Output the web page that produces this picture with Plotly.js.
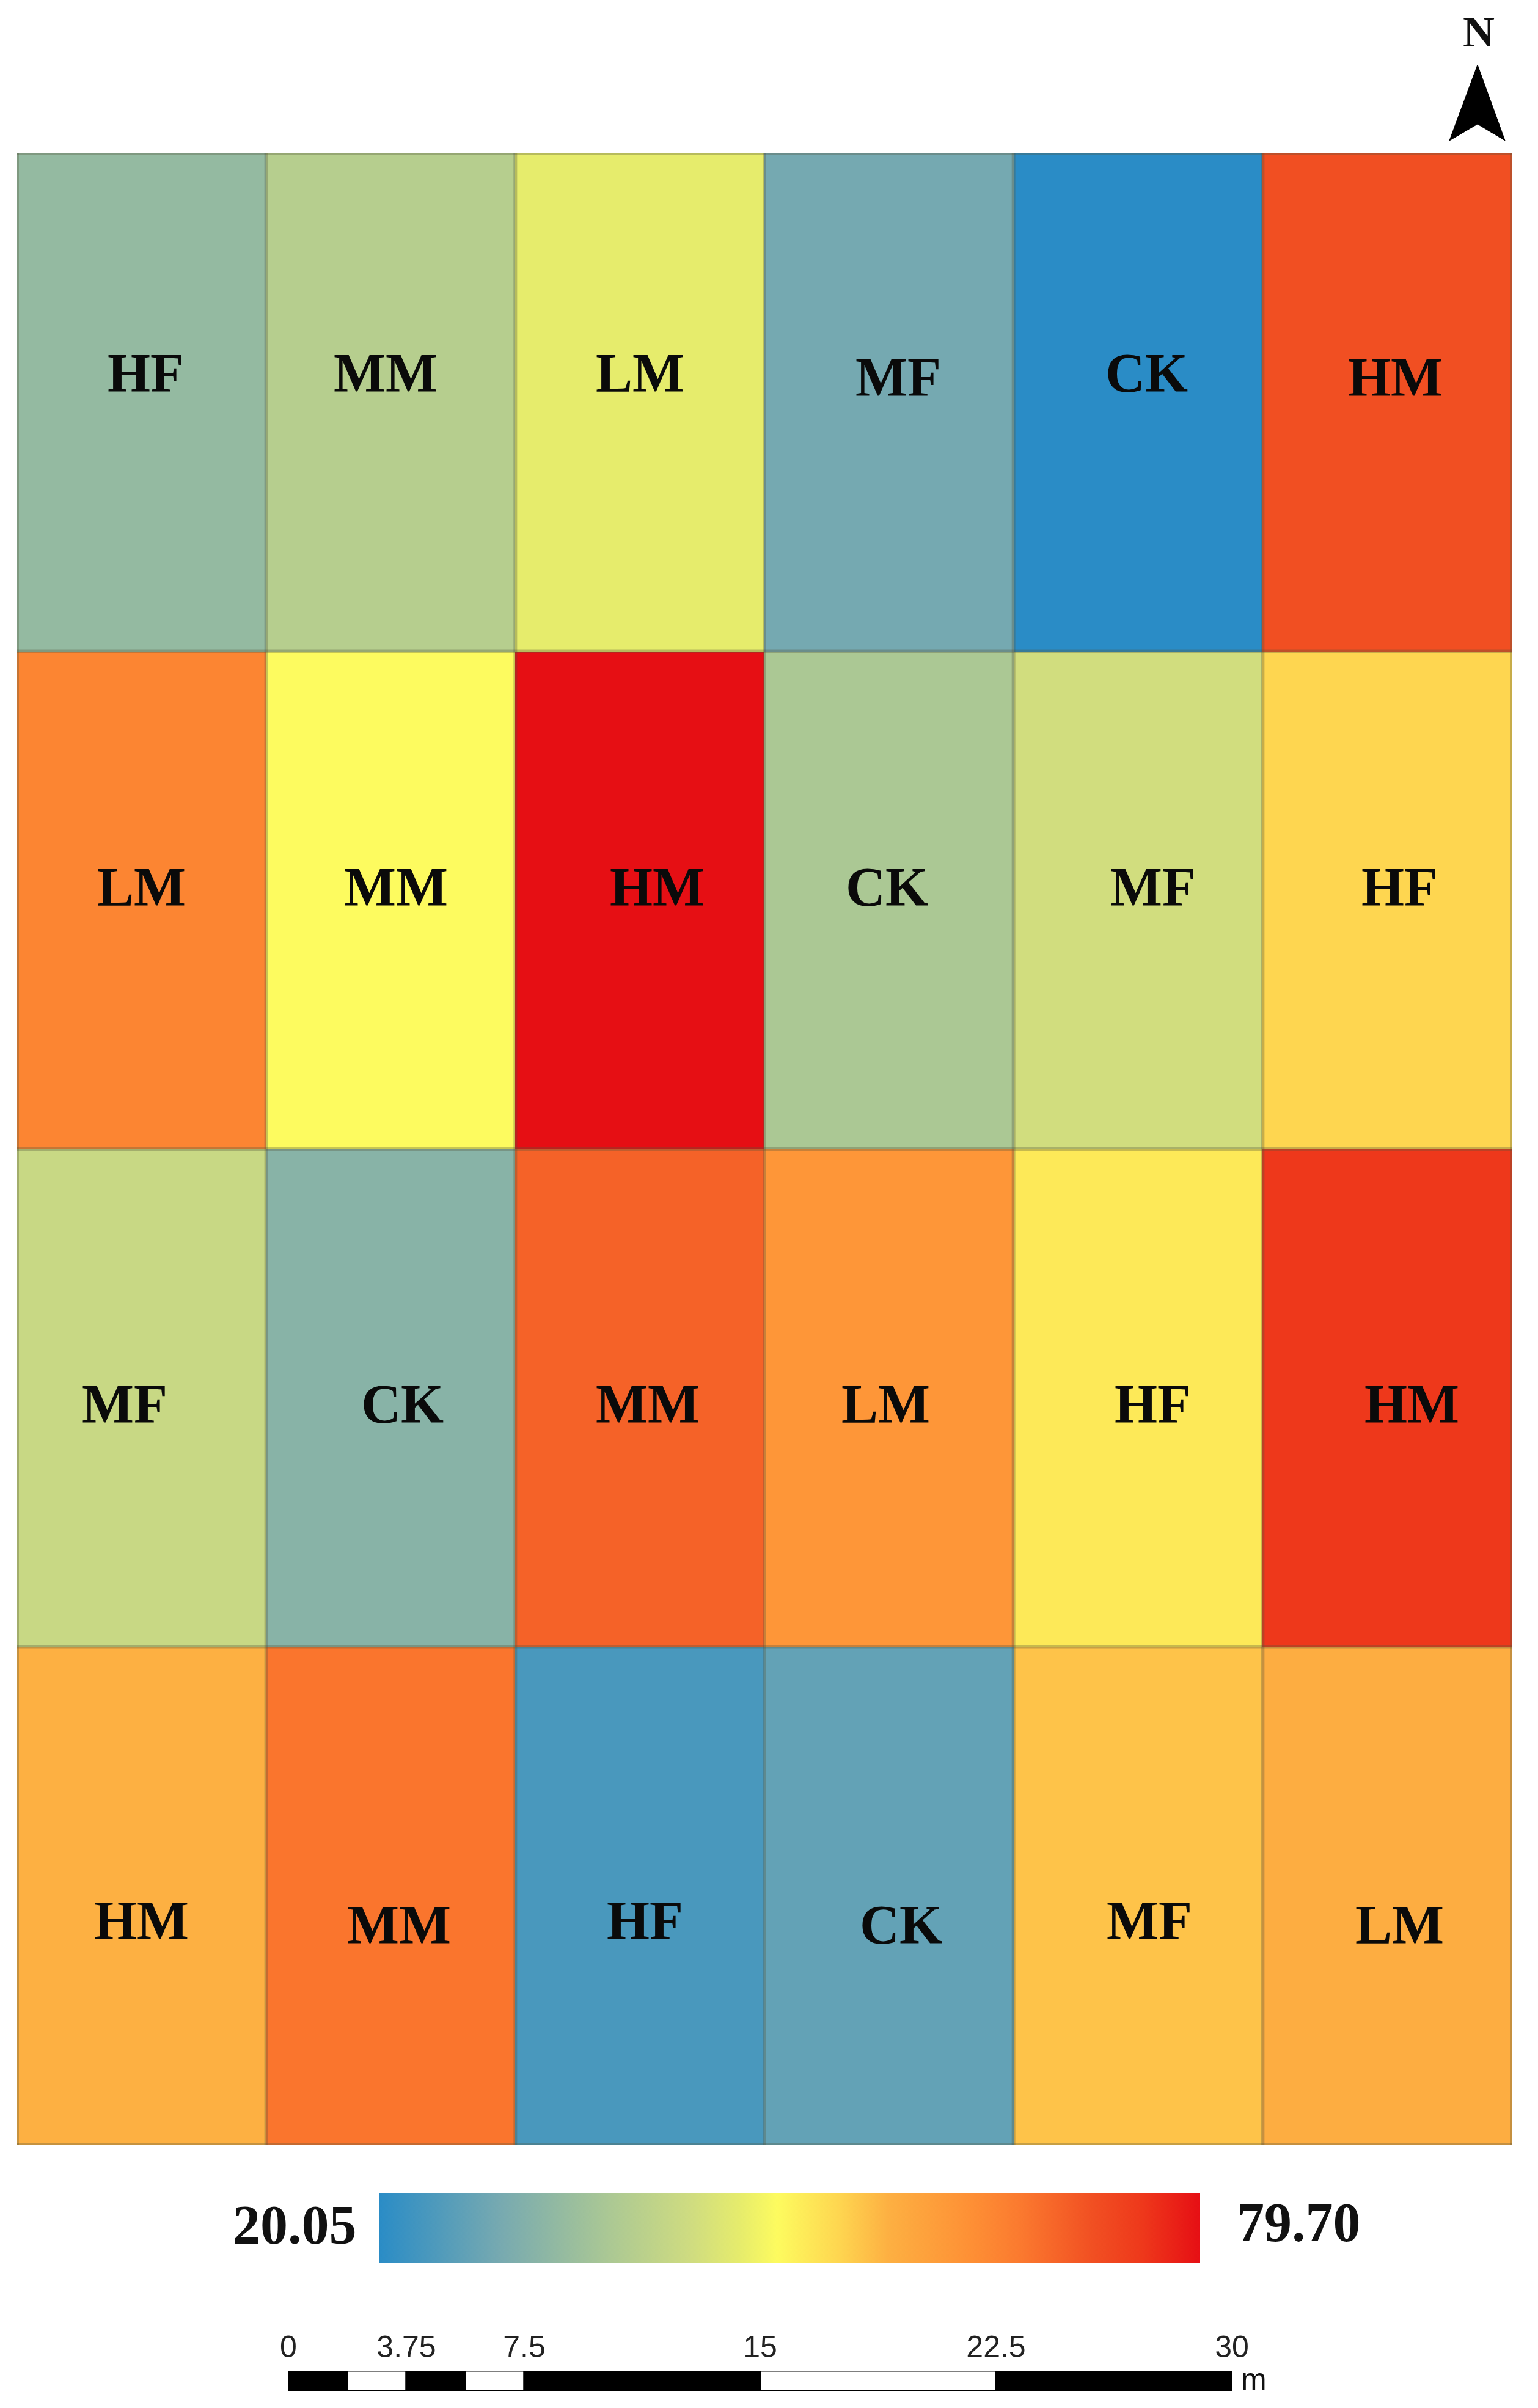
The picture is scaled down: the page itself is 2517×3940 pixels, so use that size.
<!DOCTYPE html>
<html>
<head>
<meta charset="utf-8">
<script src="https://cdn.plot.ly/plotly-3.0.1.min.js"></script>
<style>html,body{margin:0;padding:0;background:#fff}</style>
</head>
<body>
<div id="chart" style="width:2517px;height:3940px"></div>
<script>
// Plot treatments, top row first
const plotLabels = [
  ['HF','MM','LM','MF','CK','HM'],
  ['LM','MM','HM','CK','MF','HF'],
  ['MF','CK','MM','LM','HF','HM'],
  ['HM','MM','HF','CK','MF','LM']
];
// Values estimated from cell colours on the 20.05 - 79.70 ramp
const plotValues = [
  [33.2, 38.5, 46.3, 28.7, 20.05, 71.9],
  [64.8, 49.0, 79.7, 36.8, 43.0, 53.5],
  [41.5, 31.4, 69.6, 61.8, 51.1, 75.5],
  [57.0, 67.2, 23.6, 26.6, 55.2, 57.6]
];
const minValue = 20.05;
const maxValue = 79.70;
const columnCentres = [0.5, 1.5, 2.5, 3.5, 4.5, 5.5];
const rowCentres = [0.5, 1.5, 2.5, 3.5];

// Label anchor in cell units (the hand-placed labels of the original)
const labelX = [
  [0.517, 1.478, 2.501, 3.536, 4.534, 5.532],
  [0.499, 1.522, 2.569, 3.493, 4.559, 5.550],
  [0.431, 1.546, 2.532, 3.487, 4.559, 5.600],
  [0.499, 1.534, 2.520, 3.548, 4.546, 5.550]
];
const labelY = [
  [0.441, 0.441, 0.441, 0.450, 0.441, 0.450],
  [1.474, 1.474, 1.474, 1.474, 1.474, 1.474],
  [2.513, 2.513, 2.513, 2.513, 2.513, 2.513],
  [3.550, 3.559, 3.550, 3.559, 3.550, 3.559]
];

// Colour ramp
const rampStops = [0, .15, .28, .38, .44, .485, .56, .62, .72, .78, .87, .93, 1];
const rampColours = ['#2a8cc6','#78aab0','#abc894','#cfdc80','#e6ec6c','#fdfb5f','#fed650','#fdb042','#fe9035','#fb7a2f','#f14f22','#ee381b','#e60f14'];

// Scale bar
const scaleTicks = [0, 3.75, 7.5, 15, 22.5, 30];
const scaleStarts = [0, 1.875, 3.75, 5.625, 7.5, 15, 22.5];
const scaleWidths = [1.875, 1.875, 1.875, 1.875, 7.5, 7.5, 7.5];
const scaleColours = ['#000','#fff','#000','#fff','#000','#fff','#000'];

const W = 2517, H = 3940;
const px = x => x / W;
const py = y => 1 - y / H;
const serif = 'Liberation Serif';

const heat = {
  type: 'heatmap',
  x: columnCentres, y: rowCentres, z: plotValues,
  zmin: minValue, zmax: maxValue,
  colorscale: rampStops.map((s, i) => [s, rampColours[i]]),
  hoverongaps: false,
  colorbar: {
    orientation: 'h',
    xref: 'container', yref: 'container',
    x: px(620), xanchor: 'left',
    y: py(3702), yanchor: 'bottom',
    lenmode: 'pixels', len: 1344,
    thicknessmode: 'pixels', thickness: 114,
    xpad: 0, ypad: 0,
    outlinewidth: 0, borderwidth: 0,
    showticklabels: false, ticks: ''
  }
};

const scaleBar = {
  type: 'bar', orientation: 'h',
  xaxis: 'x2', yaxis: 'y2',
  y: scaleStarts.map(() => 0),
  x: scaleWidths, base: scaleStarts,
  width: 1,
  marker: { color: scaleColours, line: { color: '#000', width: 3 } },
  showlegend: false, hoverinfo: 'skip'
};

const shapes = [];
const divider = { color: 'rgba(85,85,60,0.32)', width: 6 };
for (let i = 0; i <= columnCentres.length; i++) {
  shapes.push({ type: 'line', xref: 'x', yref: 'y', x0: i, x1: i, y0: 0, y1: rowCentres.length, line: divider });
}
for (let j = 0; j <= rowCentres.length; j++) {
  shapes.push({ type: 'line', xref: 'x', yref: 'y', x0: 0, x1: columnCentres.length, y0: j, y1: j, line: divider });
}
// North arrow
const arrow = [[2418,106],[2372,230],[2418,203],[2463,230]];
shapes.push({
  type: 'path', xref: 'paper', yref: 'paper',
  path: arrow.map((p, i) => (i ? 'L' : 'M') + px(p[0]) + ',' + py(p[1])).join(' ') + ' Z',
  fillcolor: '#000', line: { color: '#000', width: 1 }
});

const annotations = [];
plotLabels.forEach((row, r) => row.forEach((t, c) => {
  annotations.push({
    xref: 'x', yref: 'y', x: labelX[r][c], y: labelY[r][c], text: t, showarrow: false,
    font: { family: serif, size: 90, color: '#0a0a0a', weight: 'bold' }
  });
}));
const paperText = (t, x, y, size, family, weight) => ({
  xref: 'paper', yref: 'paper', x: px(x), y: py(y), text: t, showarrow: false,
  xanchor: 'center', yanchor: 'middle',
  font: { family: family, size: size, color: '#111', weight: weight }
});
annotations.push(paperText(minValue.toFixed(2), 482, 3640, 90, serif, 'bold'));
annotations.push(paperText(maxValue.toFixed(2), 2125, 3636, 90, serif, 'bold'));
annotations.push(paperText('N', 2420, 52, 72, serif, 'bold'));
annotations.push(paperText('m', 2052, 3893, 50, 'Liberation Sans', 'normal'));

const layout = {
  width: W, height: H, autosize: false,
  margin: { l: 0, r: 0, t: 0, b: 0, pad: 0, autoexpand: false },
  paper_bgcolor: '#fff', plot_bgcolor: '#fff',
  showlegend: false,
  barmode: 'overlay',
  xaxis: { domain: [px(28), px(2474)], range: [0, 6], visible: false, fixedrange: true },
  yaxis: { domain: [py(3509), py(251)], range: [4, 0], visible: false, fixedrange: true },
  xaxis2: {
    domain: [px(472), px(2016)], range: [0, 30], anchor: 'y2', side: 'top',
    tickmode: 'array', tickvals: scaleTicks, ticktext: scaleTicks.map(String),
    tickfont: { family: 'Liberation Sans', size: 50, color: '#222' },
    ticks: 'outside', ticklen: 1, tickcolor: 'rgba(0,0,0,0)',
    showgrid: false, zeroline: false, showline: false, fixedrange: true
  },
  yaxis2: {
    domain: [py(3912), py(3879)], range: [-0.5, 0.5], anchor: 'x2',
    visible: false, fixedrange: true
  },
  shapes: shapes,
  annotations: annotations
};

Plotly.newPlot('chart', [heat, scaleBar], layout, { displayModeBar: false, staticPlot: true });
</script>
</body>
</html>
